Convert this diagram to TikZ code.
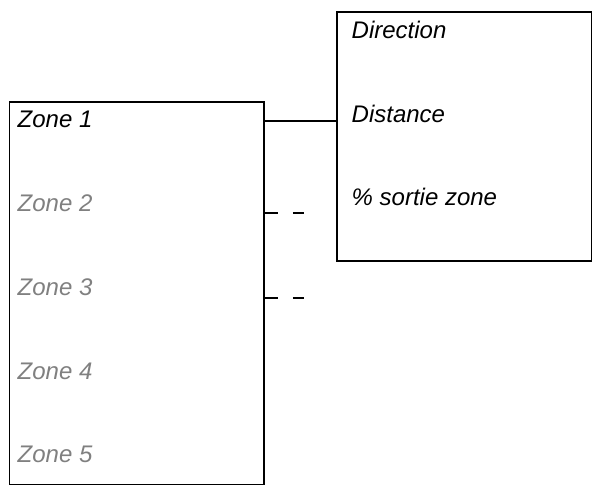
\documentclass[tikz,border=0pt]{standalone}
\usepackage{fontspec}
\setmainfont{Liberation Sans}
\usepackage{xcolor}
\definecolor{zonegrey}{RGB}{128,128,128}

\begin{document}
\begin{tikzpicture}[x=1pt,y=-1pt,
        box/.style={draw,line width=1.8pt,minimum width=254.5pt,anchor=north west,inner sep=0pt},
        lbl/.style={anchor=base west,inner sep=0pt,font=\fontsize{24}{28}\selectfont\itshape},
        link/.style={line width=1.8pt}]
        \useasboundingbox (0,0) rectangle (595,487);
        \node[box,minimum height=382.5pt] at (8.5,101) (zones) {};
        \node[box,minimum height=249pt] at (336,11) (attrs) {};
        \node[lbl] at (17.5,127.7) (z1) {Zone 1};
        \node[lbl,text=zonegrey] at (17.5,211.5) (z2) {Zone 2};
        \node[lbl,text=zonegrey] at (17.5,295.2) (z3) {Zone 3};
        \node[lbl,text=zonegrey] at (17.5,379) (z4) {Zone 4};
        \node[lbl,text=zonegrey] at (17.5,462.7) (z5) {Zone 5};
        \node[lbl] at (351.5,39) (dir) {Direction};
        \node[lbl] at (351.5,122.7) (dist) {Distance};
        \node[lbl] at (351.5,205.5) (sortie) {\% sortie zone};
        \coordinate (d2) at (304,213.3);
        \coordinate (d3) at (304,298.3);
        \draw[link] (zones.east |- 0,121) -- (attrs.west |- 0,121);
        \draw[link,dash pattern=on 13pt off 15pt] (zones.east |- d2) -- (d2);
        \draw[link,dash pattern=on 13pt off 15pt] (zones.east |- d3) -- (d3);
    \end{tikzpicture}
\end{document}
